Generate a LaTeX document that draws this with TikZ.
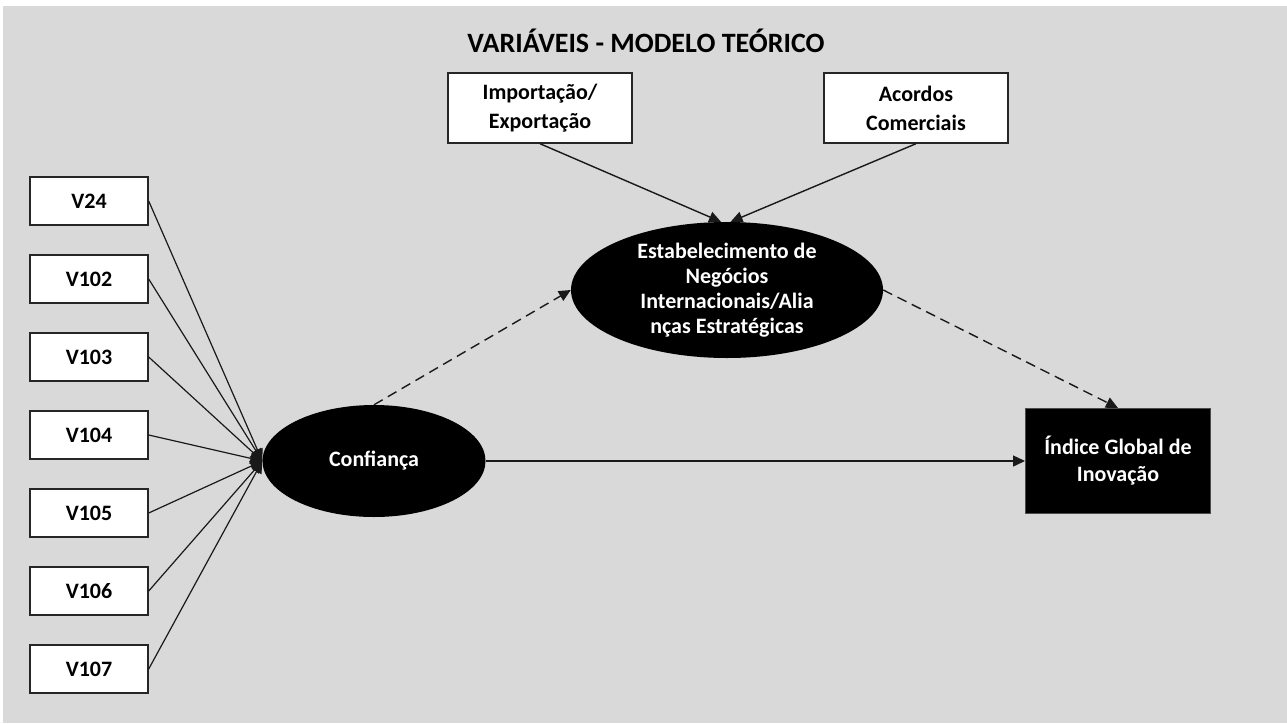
\documentclass[tikz,border=0pt]{standalone}
\usepackage{fontspec}
\setmainfont{Carlito}
\usetikzlibrary{shapes.geometric,arrows.meta}
\definecolor{bggray}{HTML}{D9D9D9}
\begin{document}
\begin{tikzpicture}[x=1pt,y=-1pt,
  txt/.style={font=\fontsize{22}{27}\selectfont\bfseries, align=center},
  wbox/.style={txt, draw=black!85, line width=1.4pt, fill=white, text=black, inner sep=0pt},
  vbox/.style={wbox, minimum width=118pt, minimum height=48pt},
  tbox/.style={wbox, minimum width=184pt, minimum height=70pt, font=\fontsize{22}{29}\selectfont\bfseries},
  blk/.style={txt, fill=black, text=white, inner sep=0pt},
  arr/.style={line width=1.4pt, draw=black!90, -{Triangle[length=12pt,width=11pt]}},
  darr/.style={arr, dash pattern=on 10pt off 6pt}
]
\useasboundingbox (0,0) rectangle (1287,723);
\fill[bggray] (3,6) rectangle (1287,723);

\node[font=\fontsize{28}{32}\selectfont\bfseries, text=black] (title) at (646,41) {VARIÁVEIS - MODELO TEÓRICO};

\node[tbox] (imp) at (540,108) {Importação/\\Exportação};
\node[tbox] (aco) at (916,108) {Acordos\\Comerciais};

\node[blk, ellipse, minimum width=312pt, minimum height=136pt, font=\fontsize{22}{25}\selectfont\bfseries] (est) at (727,290)
  {Estabelecimento de\\Negócios\\Internacionais/Alia\\nças Estratégicas};

\node[blk, ellipse, minimum width=223pt, minimum height=112pt] (conf) at (374,461) {Confiança};

\node[blk, draw=black!70, line width=1pt, minimum width=185pt, minimum height=105pt] (ind) at (1118,461) {Índice Global de\\Inovação};

\node[vbox] (v24) at (89,201) {V24};
\node[vbox] (v102) at (89,279) {V102};
\node[vbox] (v103) at (89,357) {V103};
\node[vbox] (v104) at (89,435) {V104};
\node[vbox] (v105) at (89,513) {V105};
\node[vbox] (v106) at (89,591) {V106};
\node[vbox] (v107) at (89,669) {V107};

\foreach \v in {v24,v102,v103,v104,v105,v106,v107}
  \draw[arr, line width=1.2pt] (\v.east) -- (conf.west);

\draw[arr] (imp.south) -- (est.95);
\draw[arr] (aco.south) -- (est.87);
\draw[darr] (conf.north) -- (est.west);
\draw[darr] (est.east) -- (ind.north);
\draw[arr] (conf.east) -- (ind.west);
\end{tikzpicture}
\end{document}
